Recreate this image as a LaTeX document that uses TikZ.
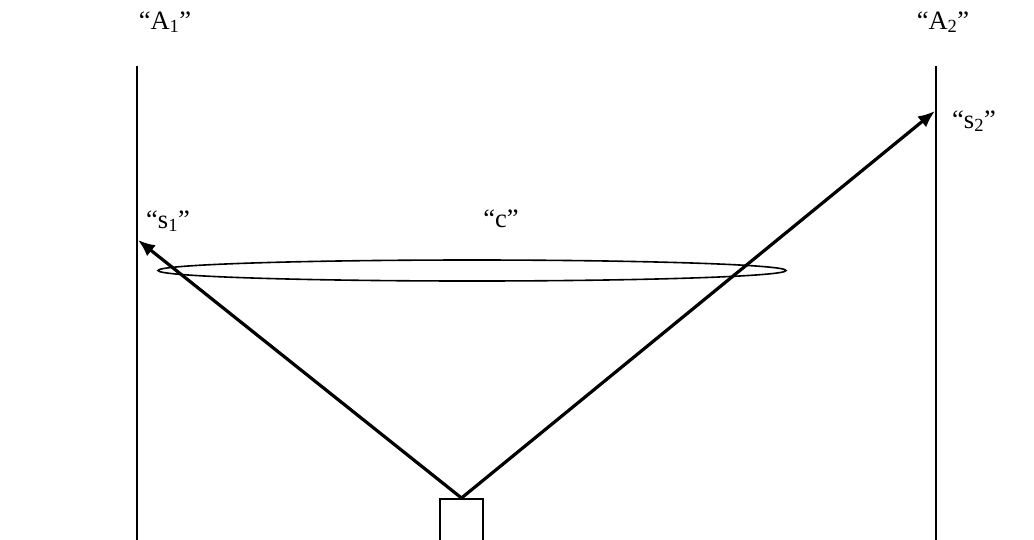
\documentclass[tikz,border=0pt]{standalone}
\usepackage{fontspec}
\setmainfont{Liberation Serif}
\usetikzlibrary{arrows.meta,shapes.geometric}
\begin{document}
\begin{tikzpicture}[x=1pt,y=-1pt,
  thinline/.style={line width=1.6pt},
  ray/.style={line width=3.2pt,-{Latex[length=17pt,width=14pt]}},
  lbl/.style={font=\fontsize{26.5}{30}\selectfont,anchor=base,inner sep=0pt}]
\useasboundingbox (0,0) rectangle (1034,539);
\clip (0,0) rectangle (1034,539);
% walls
\coordinate (a1top) at (137,66);
\coordinate (a1bot) at (137,545);
\coordinate (a2top) at (936,66);
\coordinate (a2bot) at (936,545);
\draw[thinline] (a1top) -- (a1bot);
\draw[thinline] (a2top) -- (a2bot);
% source box
\node[draw,thinline,minimum width=43pt,minimum height=60pt,inner sep=0pt,anchor=north] (src) at (461.5,498) {};
\coordinate (apex) at (src.north);
% ellipse
\node[draw,thinline,ellipse,minimum width=628pt,minimum height=21pt,inner sep=0pt] (c) at (472,270.5) {};
% rays
\coordinate (s1end) at (138,240);
\coordinate (s2end) at (935,111);
\draw[ray] (apex) -- (s1end);
\draw[ray] (apex) -- (s2end);
% labels
\node[lbl] (la1) at (165,29) {“A\textsubscript{1}”};
\node[lbl] (la2) at (943,29) {“A\textsubscript{2}”};
\node[lbl] (ls1) at (168,228) {“s\textsubscript{1}”};
\node[lbl] (lc) at (501,227) {“c”};
\node[lbl] (ls2) at (974,128) {“s\textsubscript{2}”};
\end{tikzpicture}
\end{document}
